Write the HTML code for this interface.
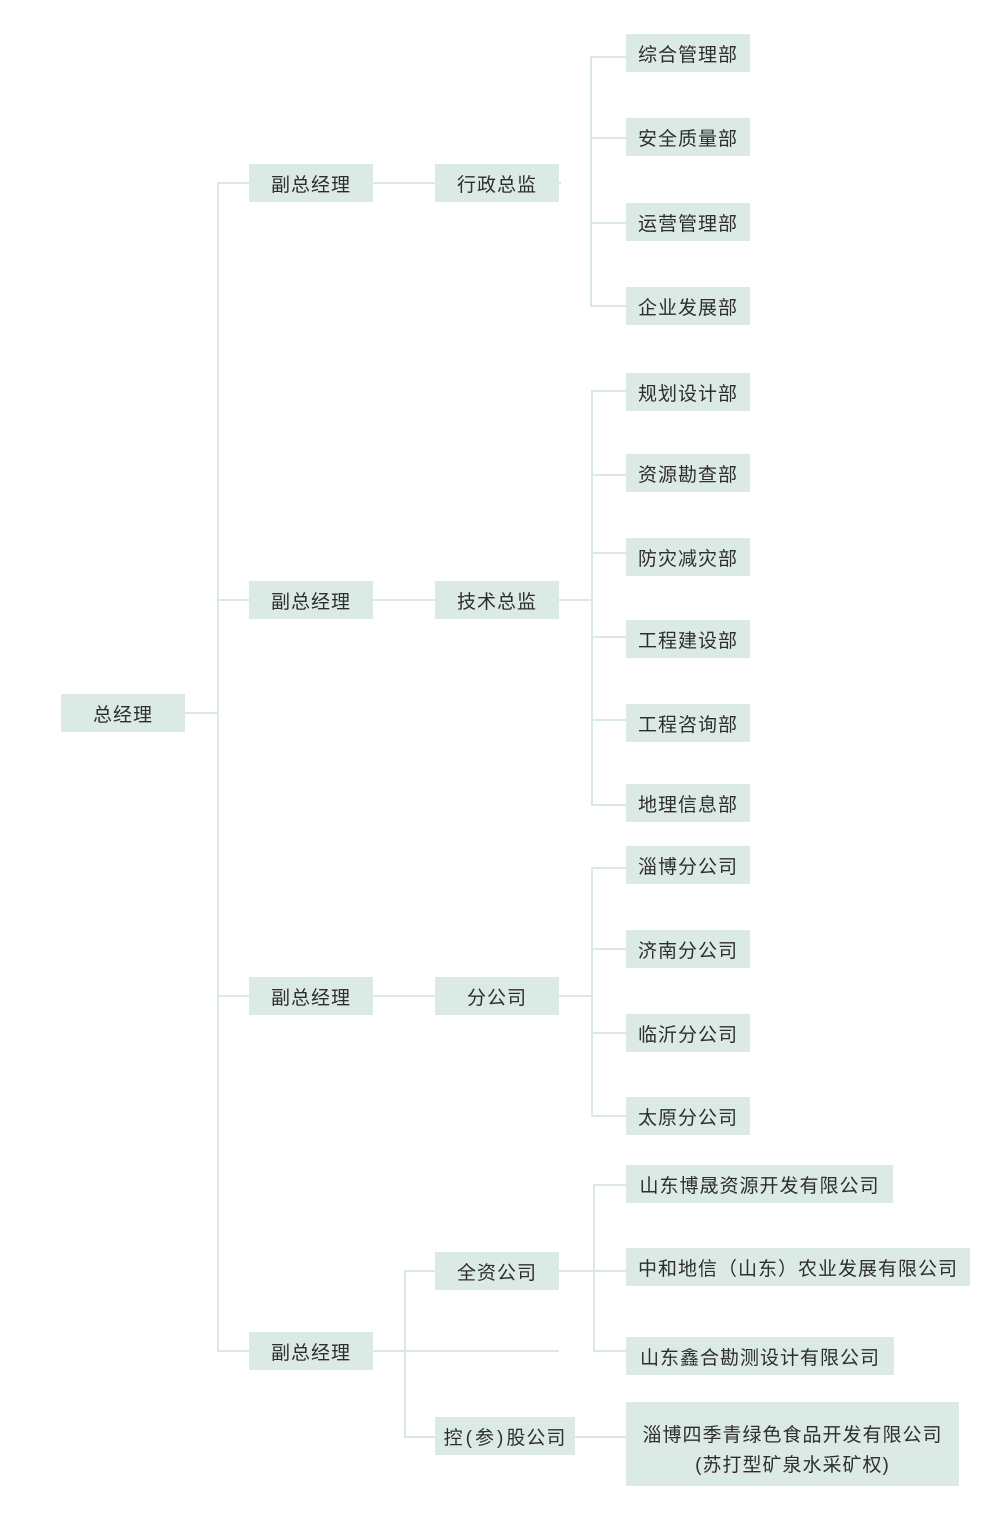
<!DOCTYPE html>
<html>
<head>
<meta charset="utf-8">
<style>
html,body{margin:0;padding:0;background:#fff;}
body{width:1000px;height:1540px;position:relative;overflow:hidden;font-family:"Liberation Sans","Noto Sans CJK SC",sans-serif;}
.b{position:absolute;background:#dceae5;color:#2e2e2e;font-size:19px;letter-spacing:1px;text-align:center;line-height:43px;height:38px;white-space:nowrap;overflow:hidden;}
.b span.p{margin:0 2px;}
.h{position:absolute;height:2px;background:#dbe9e4;}
.v{position:absolute;width:2px;background:#dbe9e4;}
</style>
</head>
<body>
<!-- lines -->
<div class="h" style="left:185px;top:712px;width:33px;"></div>
<div class="v" style="left:217px;top:182px;height:1170px;"></div>
<div class="h" style="left:217px;top:182px;width:32px;"></div>
<div class="h" style="left:217px;top:599px;width:32px;"></div>
<div class="h" style="left:217px;top:995px;width:32px;"></div>
<div class="h" style="left:217px;top:1350px;width:32px;"></div>

<div class="h" style="left:373px;top:182px;width:62px;"></div>
<div class="h" style="left:373px;top:599px;width:62px;"></div>
<div class="h" style="left:373px;top:995px;width:62px;"></div>
<div class="h" style="left:373px;top:1350px;width:186px;"></div>
<div class="v" style="left:404px;top:1270px;height:168px;"></div>
<div class="h" style="left:404px;top:1270px;width:31px;"></div>
<div class="h" style="left:404px;top:1436px;width:31px;"></div>

<div class="h" style="left:559px;top:182px;width:2px;"></div>
<div class="h" style="left:559px;top:599px;width:33px;"></div>
<div class="h" style="left:559px;top:995px;width:33px;"></div>
<div class="h" style="left:559px;top:1270px;width:67px;"></div>
<div class="h" style="left:575px;top:1436px;width:51px;"></div>

<div class="v" style="left:590px;top:56px;height:251px;"></div>
<div class="v" style="left:591px;top:390px;height:416px;"></div>
<div class="v" style="left:591px;top:867px;height:250px;"></div>
<div class="v" style="left:593px;top:1184px;height:168px;"></div>

<div class="h" style="left:590px;top:56px;width:36px;"></div>
<div class="h" style="left:590px;top:137px;width:36px;"></div>
<div class="h" style="left:590px;top:222px;width:36px;"></div>
<div class="h" style="left:590px;top:305px;width:36px;"></div>

<div class="h" style="left:591px;top:390px;width:35px;"></div>
<div class="h" style="left:591px;top:474px;width:35px;"></div>
<div class="h" style="left:591px;top:552px;width:35px;"></div>
<div class="h" style="left:591px;top:636px;width:35px;"></div>
<div class="h" style="left:591px;top:719px;width:35px;"></div>
<div class="h" style="left:591px;top:804px;width:35px;"></div>

<div class="h" style="left:591px;top:867px;width:35px;"></div>
<div class="h" style="left:591px;top:948px;width:35px;"></div>
<div class="h" style="left:591px;top:1032px;width:35px;"></div>
<div class="h" style="left:591px;top:1115px;width:35px;"></div>

<div class="h" style="left:593px;top:1184px;width:33px;"></div>
<div class="h" style="left:593px;top:1350px;width:33px;"></div>

<!-- boxes -->
<div class="b" style="left:61px;top:694px;width:124px;">总经理</div>

<div class="b" style="left:249px;top:164px;width:124px;">副总经理</div>
<div class="b" style="left:249px;top:581px;width:124px;">副总经理</div>
<div class="b" style="left:249px;top:977px;width:124px;">副总经理</div>
<div class="b" style="left:249px;top:1332px;width:124px;">副总经理</div>

<div class="b" style="left:435px;top:164px;width:124px;">行政总监</div>
<div class="b" style="left:435px;top:581px;width:124px;">技术总监</div>
<div class="b" style="left:435px;top:977px;width:124px;">分公司</div>
<div class="b" style="left:435px;top:1252px;width:124px;">全资公司</div>
<div class="b" style="left:435px;top:1417px;width:140px;">控<span class="p">(</span>参<span class="p">)</span>股公司</div>

<div class="b" style="left:626px;top:34px;width:124px;">综合管理部</div>
<div class="b" style="left:626px;top:118px;width:124px;">安全质量部</div>
<div class="b" style="left:626px;top:203px;width:124px;">运营管理部</div>
<div class="b" style="left:626px;top:287px;width:124px;">企业发展部</div>

<div class="b" style="left:626px;top:373px;width:124px;">规划设计部</div>
<div class="b" style="left:626px;top:454px;width:124px;">资源勘查部</div>
<div class="b" style="left:626px;top:538px;width:124px;">防灾减灾部</div>
<div class="b" style="left:626px;top:620px;width:124px;">工程建设部</div>
<div class="b" style="left:626px;top:704px;width:124px;">工程咨询部</div>
<div class="b" style="left:626px;top:784px;width:124px;">地理信息部</div>

<div class="b" style="left:626px;top:846px;width:124px;">淄博分公司</div>
<div class="b" style="left:626px;top:930px;width:124px;">济南分公司</div>
<div class="b" style="left:626px;top:1014px;width:124px;">临沂分公司</div>
<div class="b" style="left:626px;top:1097px;width:124px;">太原分公司</div>

<div class="b" style="left:626px;top:1165px;width:267px;">山东博晟资源开发有限公司</div>
<div class="b" style="left:626px;top:1248px;width:344px;">中和地信（山东）农业发展有限公司</div>
<div class="b" style="left:626px;top:1337px;width:268px;">山东鑫合勘测设计有限公司</div>
<div class="b" style="left:626px;top:1402px;width:333px;height:84px;line-height:30px;padding-top:19px;box-sizing:border-box;">淄博四季青绿色食品开发有限公司<br>(苏打型矿泉水采矿权)</div>
</body>
</html>
